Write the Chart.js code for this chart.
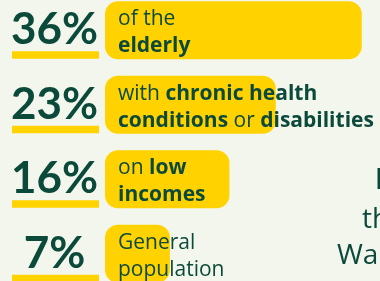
<!DOCTYPE html>
<html>
<head>
<meta charset="utf-8">
<script src="https://cdn.jsdelivr.net/npm/chart.js@4"></script>
<style>
  html, body { margin: 0; padding: 0; background: #F3F6EC; overflow: hidden; width: 380px; height: 281px; }
  #wrap { position: absolute; left: 0; top: -7px; width: 380px; height: 298px; }
</style>
</head>
<body>
<div id="wrap"><canvas id="c"></canvas></div>
<script>
// ---- data ----
const categories = ['36%', '23%', '16%', '7%'];
const values = [36, 23, 16, 7];
// description lines per bar: [text, bold]
const descLine1 = [
  [['of the', false]],
  [['with ', false], ['chronic health', true]],
  [['on ', false], ['low', true]],
  [['General', false]]
];
const descLine2 = [
  [['elderly', true]],
  [['conditions', true], [' or ', false], ['disabilities', true]],
  [['incomes', true]],
  [['population', false]]
];
const sideText = ['I', 'th', 'Wa'];

const GREEN = '#0B4A3B';
const YELLOW = '#FFD200';
const FONT = 'Lato, "Open Sans", sans-serif';
const DESC_FONT = '"Open Sans", Lato, sans-serif';

const decorPlugin = {
  id: 'decor',
  beforeDatasetsDraw(chart) {
    const ctx = chart.ctx;
    const ys = chart.scales.y;
    ctx.save();
    ctx.fillStyle = YELLOW;
    categories.forEach((c, i) => {
      const y = ys.getPixelForTick(i);
      ctx.fillRect(12, y + 21, 87, 7.5);
    });
    ctx.restore();
  },
  afterDatasetsDraw(chart) {
    const ctx = chart.ctx;
    const meta = chart.getDatasetMeta(0);
    ctx.save();
    ctx.fillStyle = GREEN;
    ctx.textBaseline = 'alphabetic';
    ctx.textAlign = 'left';
    meta.data.forEach((bar, i) => {
      const left = Math.min(bar.x, bar.base);
      const x0 = left + 13;
      [[descLine1[i], -5], [descLine2[i], 22]].forEach(([segs, dy]) => {
        let x = x0;
        segs.forEach(([t, b]) => {
          ctx.font = (b ? '700 ' : '500 ') + '21px ' + DESC_FONT;
          ctx.fillText(t, x, bar.y + dy);
          x += ctx.measureText(t).width;
        });
      });
    });
    // side heading (cut by the edge)
    const sx = [375, 362, 337];
    const sy = [196, 235, 271];
    const sw = ['700', '500', '500'];
    sideText.forEach((t, i) => {
      ctx.font = sw[i] + ' 28px ' + DESC_FONT;
      ctx.fillText(t, sx[i], sy[i]);
    });
    ctx.restore();
  }
};

new Chart(document.getElementById('c'), {
  type: 'bar',
  data: {
    labels: categories,
    datasets: [{
      data: values,
      base: -2.81,
      backgroundColor: YELLOW,
      borderRadius: 13,
      borderSkipped: false,
      barPercentage: 0.78,
      categoryPercentage: 1
    }]
  },
  options: {
    indexAxis: 'y',
    responsive: true,
    maintainAspectRatio: false,
    animation: false,
    layout: { padding: 0 },
    plugins: { legend: { display: false }, tooltip: { enabled: false } },
    scales: {
      x: {
        display: false,
        min: -2.81,
        max: 38.76
      },
      y: {
        grid: { display: false, drawTicks: false },
        border: { display: false },
        afterFit(scale) {
          scale.width = 105;
          scale.paddingTop = 0;
          scale.paddingBottom = 0;
        },
        ticks: {
          crossAlign: 'center',
          padding: 7,
          color: GREEN,
          font: { family: FONT, size: 44, weight: '700' }
        }
      }
    }
  },
  plugins: [decorPlugin]
});
</script>
</body>
</html>
